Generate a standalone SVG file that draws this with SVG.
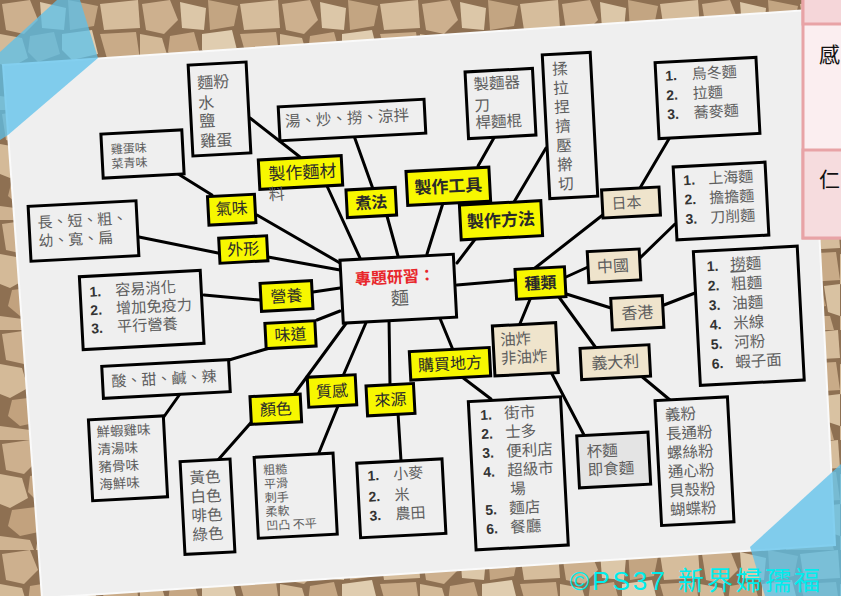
<svg xmlns="http://www.w3.org/2000/svg" width="841" height="596" viewBox="0 0 841 596">
<defs>
<style>
.box{fill:#efefef;stroke:#000;stroke-width:3}
.yel{fill:#f7f700;stroke:#000;stroke-width:3}
.bei{fill:#efe4cc;stroke:#000;stroke-width:3}
.t{font-family:"Noto Sans CJK TC","Noto Sans CJK SC",sans-serif;fill:#5e5e5e}
.yt{font-family:"Noto Sans CJK TC","Noto Sans CJK SC",sans-serif;fill:#2a2a2a;font-size:16px;text-anchor:middle}
.num{font-family:"Liberation Sans",Arial,sans-serif;font-weight:bold;fill:#333;font-size:14px}
.ln{stroke:#000;stroke-width:3;stroke-linecap:round}
</style>
<pattern id="cork" width="140" height="110" patternUnits="userSpaceOnUse">
<rect width="140" height="110" fill="#8e7052"/>
<polygon points="2,4 30,0 38,20 24,34 6,30" fill="#cdb08e"/>
<polygon points="40,2 66,8 64,30 42,28" fill="#dcc7a8"/>
<polygon points="68,0 98,6 94,26 70,30" fill="#c3a582"/>
<polygon points="100,4 138,0 140,28 104,30" fill="#d6bd9c"/>
<polygon points="0,34 22,38 28,58 10,68 0,64" fill="#d4ba98"/>
<polygon points="30,36 54,32 60,54 38,62 28,52" fill="#c6a784"/>
<polygon points="62,34 92,30 98,54 72,60 62,50" fill="#e0cdb0"/>
<polygon points="100,34 136,32 140,60 108,62" fill="#c9ab88"/>
<polygon points="12,70 44,66 48,90 20,96 8,86" fill="#c2a27e"/>
<polygon points="52,64 84,66 90,88 56,92" fill="#d3b896"/>
<polygon points="92,66 120,64 126,86 96,92" fill="#bf9f7b"/>
<polygon points="124,66 140,64 140,96 128,92" fill="#d9c2a2"/>
<polygon points="0,96 30,100 34,110 0,110" fill="#cfb391"/>
<polygon points="38,96 78,96 80,110 36,110" fill="#dbc5a6"/>
<polygon points="84,96 130,96 134,110 86,110" fill="#c7a986"/>
</pattern>
</defs>

<rect width="841" height="596" fill="url(#cork)"/>
<polygon points="3,65 808,10 835,545 42,598" fill="#efefef" stroke="#fafafa" stroke-width="2"/>

<g id="connectors">
<line class="ln" x1="250" y1="118" x2="300" y2="157"/>
<line class="ln" x1="175" y1="172" x2="212" y2="195"/>
<line class="ln" x1="257" y1="215" x2="340" y2="263"/>
<line class="ln" x1="139" y1="237" x2="218" y2="253"/>
<line class="ln" x1="268" y1="257" x2="340" y2="270"/>
<line class="ln" x1="204" y1="295" x2="260" y2="300"/>
<line class="ln" x1="313" y1="292" x2="340" y2="288"/>
<line class="ln" x1="317" y1="320" x2="340" y2="311"/>
<line class="ln" x1="229" y1="360" x2="283" y2="344"/>
<line class="ln" x1="180" y1="394" x2="163" y2="418"/>
<line class="ln" x1="295" y1="393" x2="350" y2="318"/>
<line class="ln" x1="255" y1="418" x2="218" y2="460"/>
<line class="ln" x1="343" y1="376" x2="368" y2="318"/>
<line class="ln" x1="338" y1="406" x2="318" y2="455"/>
<line class="ln" x1="389" y1="318" x2="390" y2="386"/>
<line class="ln" x1="398" y1="413" x2="401" y2="461"/>
<line class="ln" x1="439" y1="316" x2="453" y2="350"/>
<line class="ln" x1="462" y1="377" x2="491" y2="399"/>
<line class="ln" x1="457" y1="285" x2="515" y2="280"/>
<line class="ln" x1="398" y1="256" x2="387" y2="216"/>
<line class="ln" x1="353" y1="133" x2="373" y2="189"/>
<line class="ln" x1="360" y1="258" x2="327" y2="186"/>
<line class="ln" x1="427" y1="254" x2="443" y2="203"/>
<line class="ln" x1="478" y1="166" x2="495" y2="136"/>
<line class="ln" x1="457" y1="263" x2="476" y2="238"/>
<line class="ln" x1="514" y1="202" x2="546" y2="148"/>
<line class="ln" x1="535" y1="268" x2="604" y2="214"/>
<line class="ln" x1="640" y1="188" x2="673" y2="132"/>
<line class="ln" x1="566" y1="277" x2="588" y2="267"/>
<line class="ln" x1="640" y1="258" x2="675" y2="224"/>
<line class="ln" x1="560" y1="292" x2="611" y2="308"/>
<line class="ln" x1="664" y1="305" x2="695" y2="293"/>
<line class="ln" x1="556" y1="293" x2="596" y2="348"/>
<line class="ln" x1="640" y1="375" x2="670" y2="400"/>
<line class="ln" x1="531" y1="297" x2="519" y2="326"/>
<line class="ln" x1="551" y1="372" x2="584" y2="435"/>
</g>

<g id="n-center" transform="translate(398.3,288.7) rotate(-3)">
<rect class="box" x="-56.75" y="-31.5" width="113.5" height="63"/>
<text x="-2.7" y="-6" font-family="Noto Sans CJK TC,sans-serif" font-size="16" font-weight="bold" fill="#e8262b" text-anchor="middle">專題研習：</text>
<text class="t" x="1" y="16" font-size="18" text-anchor="middle" fill="#444">麵</text>
</g>

<g id="n-flour" transform="translate(219.5,109) rotate(-3)">
<rect class="box" x="-29" y="-45.5" width="58" height="91"/>
<text class="t" font-size="16"><tspan x="-21" y="-21.5">麵粉</tspan><tspan x="-21" y="-1">水</tspan><tspan x="-21" y="17">鹽</tspan><tspan x="-21" y="37">雞蛋</tspan></text>
</g>

<g id="n-eggflav" transform="translate(142.5,154) rotate(-3)">
<rect class="box" x="-40.5" y="-22" width="81" height="44"/>
<text class="t" font-size="12" fill="#333"><tspan x="-31.5" y="-2">雞蛋味</tspan><tspan x="-31.5" y="12.6">菜青味</tspan></text>
</g>

<g id="n-soup" transform="translate(352,120) rotate(-3)">
<rect class="box" x="-73" y="-17" width="146" height="34"/>
<text class="t" font-size="15.5" x="-67" y="3.5">湯、炒、撈、涼拌</text>
</g>

<g id="n-tools" transform="translate(500.5,103.5) rotate(-3)">
<rect class="box" x="-33.75" y="-33.35" width="67.5" height="66.7"/>
<text class="t" font-size="15.5"><tspan x="-26" y="-15">製麵器</tspan><tspan x="-26" y="6.4">刀</tspan><tspan x="-26" y="23.5">桿麵棍</tspan></text>
</g>

<g id="n-knead" transform="translate(570,125.5) rotate(-3)">
<rect class="box" x="-24" y="-72" width="48" height="144"/>
<text class="t" font-size="15.5" text-anchor="middle" fill="#777"><tspan x="-7" y="-51.6">揉</tspan><tspan x="-7" y="-32.4">拉</tspan><tspan x="-7" y="-13.2">捏</tspan><tspan x="-7" y="6">擠</tspan><tspan x="-7" y="25.2">壓</tspan><tspan x="-7" y="44.4">擀</tspan><tspan x="-7" y="63.6">切</tspan></text>
</g>

<g id="n-udon" transform="translate(707.5,98) rotate(-3)">
<rect class="box" x="-50.5" y="-38" width="101" height="76"/>
<text class="num"><tspan x="-41" y="-19.5">1.</tspan><tspan x="-41" y="0">2.</tspan><tspan x="-41" y="19.2">3.</tspan></text>
<text class="t" font-size="15"><tspan x="-14.5" y="-19.5">烏冬麵</tspan><tspan x="-14.5" y="0">拉麵</tspan><tspan x="-14.5" y="19.2">蕎麥麵</tspan></text>
</g>

<g id="n-japan" transform="translate(631,202.5) rotate(-3)">
<rect class="bei" x="-28.75" y="-14" width="57.5" height="28"/>
<text class="t" font-size="15" x="-4.5" y="5.5" text-anchor="middle">日本</text>
</g>

<g id="n-shanghai" transform="translate(721,201) rotate(-3)">
<rect class="box" x="-46" y="-36.5" width="92" height="73"/>
<text class="num"><tspan x="-36.5" y="-17.8">1.</tspan><tspan x="-36.5" y="1.7">2.</tspan><tspan x="-36.5" y="21.2">3.</tspan></text>
<text class="t" font-size="15"><tspan x="-11.5" y="-17.8">上海麵</tspan><tspan x="-11.5" y="1.7">擔擔麵</tspan><tspan x="-11.5" y="21.2">刀削麵</tspan></text>
</g>

<g id="n-shape" transform="translate(83.5,231) rotate(-3)">
<rect class="box" x="-54" y="-27.5" width="108" height="55"/>
<text class="t" font-size="15"><tspan x="-45.6" y="-5.3">長、短、粗、</tspan><tspan x="-45.6" y="13.2">幼、寬、扁</tspan></text>
</g>

<g id="n-nutrition" transform="translate(141.7,310) rotate(-3)">
<rect class="box" x="-60.5" y="-36.5" width="121" height="73"/>
<text class="num"><tspan x="-51.3" y="-15.9">1.</tspan><tspan x="-51.3" y="2.5">2.</tspan><tspan x="-51.3" y="20.8">3.</tspan></text>
<text class="t" font-size="15.2"><tspan x="-25.5" y="-15.9">容易消化</tspan><tspan x="-25.5" y="2.5">增加免疫力</tspan><tspan x="-25.5" y="20.8">平行營養</tspan></text>
</g>

<g id="n-tastes" transform="translate(166,379) rotate(-3)">
<rect class="box" x="-63.5" y="-16" width="127" height="32"/>
<text class="t" font-size="15" x="-54.5" y="5">酸、甜、鹹、辣</text>
</g>

<g id="n-seafood" transform="translate(128,458.3) rotate(-3)">
<rect class="box" x="-37.5" y="-40.5" width="75" height="81"/>
<text class="t" font-size="13.5"><tspan x="-30" y="-22.9">鮮蝦雞味</tspan><tspan x="-30" y="-5.4">清湯味</tspan><tspan x="-30" y="12.1">豬骨味</tspan><tspan x="-30" y="29.6">海鮮味</tspan></text>
</g>

<g id="n-colors" transform="translate(207.5,506.7) rotate(-3)">
<rect class="box" x="-25" y="-46.5" width="50" height="93"/>
<text class="t" font-size="15.5" text-anchor="middle"><tspan x="-1" y="-24.1">黃色</tspan><tspan x="-1" y="-5.1">白色</tspan><tspan x="-1" y="13.9">啡色</tspan><tspan x="-1" y="32.9">綠色</tspan></text>
</g>

<g id="n-texture" transform="translate(295.7,495.7) rotate(-3)">
<rect class="box" x="-39.5" y="-40.5" width="79" height="81"/>
<text class="t" font-size="12" fill="#333"><tspan x="-31" y="-22.8">粗糙</tspan><tspan x="-31" y="-8.9">平滑</tspan><tspan x="-31" y="5">刺手</tspan><tspan x="-31" y="18.9">柔軟</tspan><tspan x="-31" y="32.8">凹凸 不平</tspan></text>
</g>

<g id="n-wheat" transform="translate(401.3,498.3) rotate(-3)">
<rect class="box" x="-42.7" y="-37.3" width="85.4" height="74.6"/>
<text class="num"><tspan x="-32.7" y="-19.3">1.</tspan><tspan x="-32.7" y="1.7">2.</tspan><tspan x="-32.7" y="20.7">3.</tspan></text>
<text class="t" font-size="15"><tspan x="-6.7" y="-19.3">小麥</tspan><tspan x="-6.7" y="1.7">米</tspan><tspan x="-6.7" y="20.7">農田</tspan></text>
</g>

<g id="n-market" transform="translate(518.3,473.3) rotate(-3)">
<rect class="box" x="-46.15" y="-74.25" width="92.3" height="148.5"/>
<text class="num"><tspan x="-35" y="-55.1">1.</tspan><tspan x="-35" y="-36.1">2.</tspan><tspan x="-35" y="-17.1">3.</tspan><tspan x="-35" y="1.9">4.</tspan><tspan x="-35" y="39.9">5.</tspan><tspan x="-35" y="58.9">6.</tspan></text>
<text class="t" font-size="15.5"><tspan x="-11" y="-55.1">街市</tspan><tspan x="-11" y="-36.1">士多</tspan><tspan x="-11" y="-17.1">便利店</tspan><tspan x="-11" y="1.9">超級市</tspan><tspan x="-9" y="20.9">場</tspan><tspan x="-11" y="39.9">麵店</tspan><tspan x="-11" y="58.9">餐廳</tspan></text>
</g>

<g id="n-hklist" transform="translate(748.8,315.8) rotate(-3)">
<rect class="box" x="-52" y="-67" width="104" height="134"/>
<text class="num"><tspan x="-39.5" y="-46.6">1.</tspan><tspan x="-39.5" y="-27.1">2.</tspan><tspan x="-39.5" y="-7.6">3.</tspan><tspan x="-39.5" y="11.9">4.</tspan><tspan x="-39.5" y="31.4">5.</tspan><tspan x="-39.5" y="50.9">6.</tspan></text>
<text class="t" font-size="15.5"><tspan x="-16" y="-46.6" text-decoration="underline">撈</tspan><tspan>麵</tspan><tspan x="-16" y="-27.1">粗麵</tspan><tspan x="-16" y="-7.6">油麵</tspan><tspan x="-16" y="11.9">米線</tspan><tspan x="-16" y="31.4">河粉</tspan><tspan x="-16" y="50.9">蝦子面</tspan></text>
</g>

<g id="n-pasta" transform="translate(694.5,461.2) rotate(-3)">
<rect class="box" x="-36.25" y="-62.5" width="72.5" height="125"/>
<text class="t" font-size="15.5"><tspan x="-27" y="-42.1">義粉</tspan><tspan x="-27" y="-23.1">長通粉</tspan><tspan x="-27" y="-4.1">螺絲粉</tspan><tspan x="-27" y="14.9">通心粉</tspan><tspan x="-27" y="33.9">貝殼粉</tspan><tspan x="-27" y="52.9">蝴蝶粉</tspan></text>
</g>

<g id="n-cup" transform="translate(613.7,460) rotate(-3)">
<rect class="box" x="-35.65" y="-26" width="71.3" height="52" style="fill:#e4e4e4"/>
<text class="t" font-size="15.5"><tspan x="-26.5" y="-4.1">杯麵</tspan><tspan x="-26.5" y="14.2">即食麵</tspan></text>
</g>

<g id="n-fried" transform="translate(525.3,349.3) rotate(-3)">
<rect class="bei" x="-31.7" y="-25" width="63.4" height="50"/>
<text class="t" font-size="15.5"><tspan x="-24.7" y="-5.1">油炸</tspan><tspan x="-24.7" y="13.3">非油炸</tspan></text>
</g>

<g id="n-china" transform="translate(614,265.8) rotate(-3)">
<rect class="bei" x="-26" y="-15.5" width="52" height="31"/>
<text class="t" font-size="16" x="-1" y="5.8" text-anchor="middle">中國</text>
</g>
<g id="n-hk" transform="translate(637.3,312.8) rotate(-3)">
<rect class="bei" x="-25.8" y="-15.85" width="51.6" height="31.7"/>
<text class="t" font-size="16" x="0" y="5.8" text-anchor="middle">香港</text>
</g>
<g id="n-italy" transform="translate(615.3,362.2) rotate(-3)">
<rect class="bei" x="-34.5" y="-15.7" width="69" height="31.4"/>
<text class="t" font-size="16" x="0" y="5.8" text-anchor="middle">義大利</text>
</g>

<g id="n-smell" transform="translate(231.7,209.7) rotate(-3)"><rect class="yel" x="-23.5" y="-14.25" width="47" height="28.5"/><text class="yt" x="0" y="4.5">氣味</text></g>
<g id="n-shapeL" transform="translate(243.3,249.5) rotate(-3)"><rect class="yel" x="-24" y="-12.5" width="48" height="25"/><text class="yt" x="0" y="5.5">外形</text></g>
<g id="n-nutrL" transform="translate(286.5,296) rotate(-3)"><rect class="yel" x="-25.75" y="-14" width="51.5" height="28"/><text class="yt" x="0" y="5.8">營養</text></g>
<g id="n-tasteL" transform="translate(290.5,334.7) rotate(-3)"><rect class="yel" x="-25" y="-12.65" width="50" height="25.3"/><text class="yt" x="0" y="5.5">味道</text></g>
<g id="n-colorL" transform="translate(275.8,409.2) rotate(-3)"><rect class="yel" x="-25.15" y="-13.85" width="50.3" height="27.7"/><text class="yt" x="0" y="5.8">顏色</text></g>
<g id="n-textureL" transform="translate(332,391) rotate(-3)"><rect class="yel" x="-24" y="-15" width="48" height="30"/><text class="yt" x="0" y="5.8">質感</text></g>
<g id="n-sourceL" transform="translate(390.5,399.7) rotate(-3)"><rect class="yel" x="-23.75" y="-15" width="47.5" height="30"/><text class="yt" x="0" y="5.8">來源</text></g>
<g id="n-buyL" transform="translate(450,363.8) rotate(-3)"><rect class="yel" x="-40" y="-14.25" width="80" height="28.5"/><text class="yt" x="0" y="5.8">購買地方</text></g>
<g id="n-typeL" transform="translate(540.5,283) rotate(-3)"><rect class="yel" x="-24.75" y="-15" width="49.5" height="30"/><text class="yt" x="0" y="5.8" font-weight="bold">種類</text></g>
<g id="n-materialL" transform="translate(300.5,172.5) rotate(-3)"><rect class="yel" x="-41.5" y="-14.7" width="83" height="29.4"/><text class="yt" x="2" y="6" style="font-size:17px">製作麵材</text><text class="t" font-size="16" x="-33" y="26">料</text></g>
<g id="n-cookL" transform="translate(371.3,202.5) rotate(-3)"><rect class="yel" x="-24.65" y="-13.85" width="49.3" height="27.7"/><text class="yt" x="0" y="5.8" font-weight="bold">煮法</text></g>
<g id="n-toolL" transform="translate(448.3,186.3) rotate(-3)"><rect class="yel" x="-41.5" y="-17" width="83" height="34"/><text class="yt" x="0" y="6" style="font-size:17px" font-weight="bold">製作工具</text></g>
<g id="n-methodL" transform="translate(501,220.3) rotate(-3)"><rect class="yel" x="-40.75" y="-17.5" width="81.5" height="35"/><text class="yt" x="0" y="6" style="font-size:17px" font-weight="bold">製作方法</text></g>

<polygon points="57,0 80,0 98,58 8,135 0,140 0,52" fill="#5bc0eb" fill-opacity="0.75"/>
<polygon points="750,547 841,464 841,596 765,596" fill="#5bc0eb" fill-opacity="0.75"/>

<g id="panel">
<rect x="803" y="-3" width="45" height="241" fill="#fbeef0" stroke="#e8a3a6" stroke-width="3"/>
<rect x="803" y="-3" width="45" height="27" fill="#f5d6d9" stroke="#e8a3a6" stroke-width="3"/>
<rect x="803" y="150" width="45" height="88" fill="#f6dcde" stroke="#e8a3a6" stroke-width="3"/>
<text x="819" y="62" font-family="Noto Sans CJK TC,sans-serif" font-size="21" fill="#111">感</text>
<text x="819" y="187" font-family="Noto Sans CJK TC,sans-serif" font-size="21" fill="#111">仁</text>
</g>

<text x="570" y="590" font-family="Liberation Sans,Noto Sans CJK TC,sans-serif" font-size="26" letter-spacing="3" fill="#00eded">©PS37 新界婦孺福</text>
</svg>
